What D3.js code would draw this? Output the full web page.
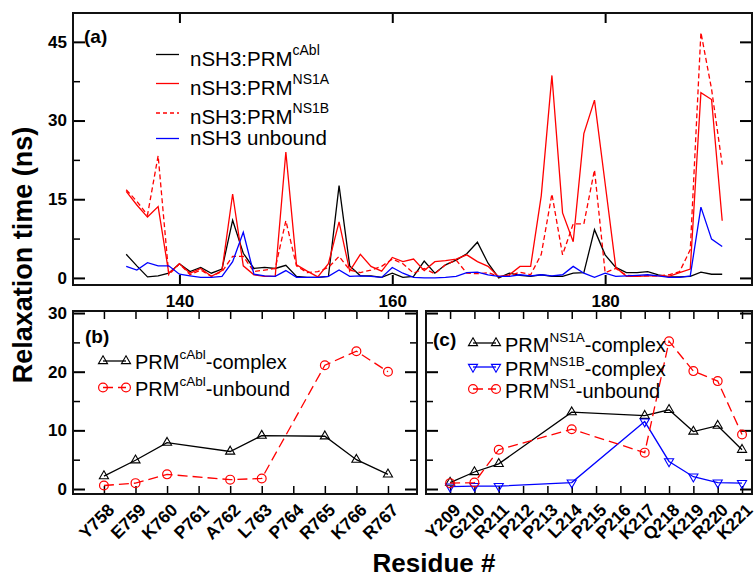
<!DOCTYPE html>
<html>
<head>
<meta charset="utf-8">
<script src="https://cdn.jsdelivr.net/npm/d3@7"></script>
<style>
  body { margin: 0; background: #fff; }
  svg text { font-family: "Liberation Sans", Arial, Helvetica, sans-serif; }
</style>
</head>
<body>
<svg id="fig" width="756" height="578"></svg>
<script>
// ---- panel (a): relaxation time per nSH3 residue ----
const residues = [135, 136, 137, 138, 139, 140, 141, 142, 143, 144, 145, 146, 147, 148, 149,
  150, 151, 152, 153, 154, 155, 156, 157, 158, 159, 160, 161, 162, 163, 164, 165, 166, 167,
  168, 169, 170, 171, 172, 173, 174, 175, 176, 177, 178, 179, 180, 181, 182, 183, 184, 185,
  186, 187, 188, 189, 190, 191];
const cAbl = [4.5, 2.3, 0.2, 0.4, 0.9, 2.7, 1.2, 2.0, 0.9, 1.7, 11.0, 4.7, 1.8, 2.0, 1.8,
  2.4, 0.3, 0.1, 0.1, 0.3, 17.6, 2.3, 0.4, 0.4, 0.1, 0.9, 0.1, 0.3, 3.2, 0.9, 2.5, 3.4, 4.6,
  6.8, 2.8, 0.0, 0.9, 0.5, 0.3, 0.6, 0.3, 0.3, 0.9, 1.0, 9.2, 4.4, 2.0, 1.0, 1.0, 1.2, 0.6,
  0.2, 0.2, 0.3, 1.1, 0.7, 0.7];
const ns1a = [16.5, 13.9, 11.6, 13.6, 0.9, 2.7, 0.9, 1.8, 0.3, 1.4, 16.0, 2.3, 0.6, 0.3, 0.3,
  24.0, 2.5, 1.3, 0.2, 2.7, 10.7, 1.3, 4.5, 2.2, 1.3, 3.9, 3.1, 3.6, 1.4, 3.1, 3.3, 3.6, 4.4,
  3.1, 2.2, 0.2, 0.6, 2.2, 2.2, 15.7, 38.6, 12.4, 6.9, 27.5, 33.9, 18.0, 2.0, 0.3, 0.3, 0.4,
  0.4, 0.3, 1.0, 1.7, 35.3, 34.0, 10.9];
const ns1b = [16.8, 14.6, 12.0, 23.3, 0.6, 2.7, 0.6, 1.5, 0.3, 1.2, 4.1, 4.1, 1.2, 1.5, 1.8,
  10.9, 2.3, 1.0, 1.2, 2.0, 4.1, 1.5, 1.0, 1.5, 2.2, 3.6, 2.7, 0.9, 1.8, 0.8, 2.5, 3.4, 0.9,
  0.8, 1.0, 0.3, 0.4, 1.1, 0.6, 4.5, 16.0, 4.4, 10.3, 10.3, 20.6, 1.0, 1.8, 0.5, 0.4, 0.4,
  0.4, 0.6, 1.2, 5.4, 46.8, 36.0, 21.6];
const unbound = [2.2, 1.5, 2.9, 2.3, 2.3, 0.7, 0.4, 0.1, 0.1, 0.3, 3.1, 8.7, 0.7, 0.4, 0.3,
  1.4, 0.1, 0.1, 0.1, 0.3, 1.5, 0.3, 0.4, 0.3, 0.1, 2.0, 0.9, 0.1, 0.0, 0.0, 0.1, 0.3, 1.0,
  1.1, 0.6, 0.3, 0.3, 0.6, 0.4, 0.6, 0.4, 0.6, 2.2, 0.9, 0.1, 0.9, 0.3, 0.4, 0.5, 0.6, 0.4,
  0.1, 0.1, 0.4, 13.5, 7.4, 6.0];
const aYMajor = [0, 15, 30, 45];
const aYMinor = [7.5, 22.5, 37.5];
const aXTicks = [140, 160, 180];

// ---- panel (b): PRM cAbl residues ----
const bLabels = ["Y758", "E759", "K760", "P761", "A762", "L763", "P764", "R765", "K766", "R767"];
const bComplex = [2.2, 4.9, 7.9, null, 6.4, 9.1, null, 9.0, 5.0, 2.5];
const bUnbound = [0.6, 1.0, 2.5, null, 1.6, 1.8, null, 21.1, 23.5, 20.0];

// ---- panel (c): PRM NS1 residues ----
const cLabels = ["Y209", "G210", "R211", "P212", "P213", "L214", "P215", "P216", "K217",
  "Q218", "K219", "R220", "K221"];
const cNS1A = [1.1, 2.9, 4.3, null, null, 13.1, null, null, 12.5, 13.5, 9.8, 10.8, 6.7];
const cNS1B = [0.4, 0.5, 0.5, null, null, 1.1, null, null, 11.5, 4.7, 2.1, 1.1, 1.0];
const cUnbound = [1.0, 1.1, 6.7, null, null, 10.2, null, null, 6.2, 25.2, 20.1, 18.4, 9.3];
const bcYMajor = [0, 10, 20, 30];
const bcYMinor = [5, 15, 25];

const svg = d3.select("#fig");

// style helper for axes: no domain, thick ticks, bold labels
function styleAxis(g, fontSize, width) {
  g.select(".domain").remove();
  g.selectAll(".tick line").attr("stroke", "#000").attr("stroke-width", width);
  g.selectAll(".tick text")
    .attr("fill", "#000")
    .style("font-size", fontSize + "px")
    .style("font-weight", "bold");
}

function frame(x0, y0, x1, y1) {
  svg.append("rect")
    .attr("x", x0).attr("y", y0)
    .attr("width", x1 - x0).attr("height", y1 - y0)
    .attr("fill", "none").attr("stroke", "#111").attr("stroke-width", 2);
}

function yAxes(y, x0, x1, major, minor, labels) {
  svg.append("g").attr("transform", "translate(" + x0 + ",0)")
    .call(d3.axisLeft(y).tickValues(major).tickSizeInner(-12).tickSizeOuter(0)
      .tickPadding(6).tickFormat(labels ? d3.format("d") : ""))
    .call(g => styleAxis(g, 17, 2));
  svg.append("g").attr("transform", "translate(" + x0 + ",0)")
    .call(d3.axisLeft(y).tickValues(minor).tickSizeInner(-7).tickSizeOuter(0).tickFormat(""))
    .call(g => styleAxis(g, 17, 1.5));
  svg.append("g").attr("transform", "translate(" + x1 + ",0)")
    .call(d3.axisRight(y).tickValues(major).tickSizeInner(-12).tickSizeOuter(0).tickFormat(""))
    .call(g => styleAxis(g, 17, 2));
  svg.append("g").attr("transform", "translate(" + x1 + ",0)")
    .call(d3.axisRight(y).tickValues(minor).tickSizeInner(-7).tickSizeOuter(0).tickFormat(""))
    .call(g => styleAxis(g, 17, 1.5));
}

// ================= panel (a) =================
const xA = d3.scaleLinear().domain([130, 193.8]).range([73, 752]);
const yA = d3.scaleLinear().domain([-1.35, 50.5]).range([285, 13]);

yAxes(yA, 73, 752, aYMajor, aYMinor, true);
svg.append("g").attr("transform", "translate(0,285)")
  .call(d3.axisBottom(xA).tickValues(aXTicks).tickSizeInner(-10).tickSizeOuter(0).tickPadding(10))
  .call(g => styleAxis(g, 17, 2));
svg.append("g").attr("transform", "translate(0,13)")
  .call(d3.axisTop(xA).tickValues(aXTicks).tickSizeInner(-10).tickSizeOuter(0).tickFormat(""))
  .call(g => styleAxis(g, 17, 2));

const seriesA = [
  { values: cAbl, color: "#000", dash: null },
  { values: ns1a, color: "#ff0000", dash: null },
  { values: ns1b, color: "#ff0000", dash: "5,3" },
  { values: unbound, color: "#0000ff", dash: null }
];
const lineA = d3.line().x(d => xA(d[0])).y(d => yA(d[1]));
seriesA.forEach(s => {
  svg.append("path")
    .datum(residues.map((r, i) => [r, s.values[i]]))
    .attr("d", lineA)
    .attr("fill", "none")
    .attr("stroke", s.color)
    .attr("stroke-width", 1.3)
    .attr("stroke-dasharray", s.dash);
});
frame(73, 13, 752, 285);

svg.append("text").attr("x", 84).attr("y", 43)
  .style("font-size", "19px").style("font-weight", "bold").text("(a)");

const legendA = [
  { main: "nSH3:PRM", sup: "cAbl", color: "#000", dash: null, ly: 54.5, ty: 66 },
  { main: "nSH3:PRM", sup: "NS1A", color: "#ff0000", dash: null, ly: 83.5, ty: 94.5 },
  { main: "nSH3:PRM", sup: "NS1B", color: "#ff0000", dash: "4,3", ly: 113, ty: 123.5 },
  { main: "nSH3 unbound", sup: null, color: "#0000ff", dash: null, ly: 138.5, ty: 145 }
];
legendA.forEach(l => {
  svg.append("line").attr("x1", 156).attr("x2", 179).attr("y1", l.ly).attr("y2", l.ly)
    .attr("stroke", l.color).attr("stroke-width", 1.3).attr("stroke-dasharray", l.dash);
  const t = svg.append("text").attr("x", 190).attr("y", l.ty).style("font-size", "20.5px");
  t.append("tspan").text(l.main);
  if (l.sup) t.append("tspan").attr("dy", -11).style("font-size", "14px").text(l.sup);
});

// ================= panels (b) and (c) =================
const yB = d3.scaleLinear().domain([-0.85, 30.35]).range([494, 311]);

function categoryPanel(labels, x, x0, x1, series) {
  yAxes(yB, x0, x1, bcYMajor, bcYMinor, x0 === 73);
  const idx = labels.map((d, i) => i);
  svg.append("g").attr("transform", "translate(0,494)")
    .call(d3.axisBottom(x).tickValues(idx).tickSizeInner(-8).tickSizeOuter(0)
      .tickFormat(i => labels[i]))
    .call(g => styleAxis(g, 17.5, 1.5))
    .call(g => g.selectAll(".tick text")
      .attr("text-anchor", "end")
      .attr("dy", null)
      .attr("y", null)
      .attr("transform", "translate(11,17) rotate(-45)"));
  svg.append("g").attr("transform", "translate(0,311)")
    .call(d3.axisTop(x).tickValues(idx).tickSizeInner(-8).tickSizeOuter(0).tickFormat(""))
    .call(g => styleAxis(g, 16, 1.5));

  series.forEach(s => {
    const pts = s.values.map((v, i) => [i, v]).filter(d => d[1] !== null);
    svg.append("path")
      .datum(pts)
      .attr("d", d3.line().x(d => x(d[0])).y(d => yB(d[1])))
      .attr("fill", "none")
      .attr("stroke", s.color)
      .attr("stroke-width", 1.3)
      .attr("stroke-dasharray", s.dash);
    drawMarkers(pts.map(d => [x(d[0]), yB(d[1])]), s);
  });
  frame(x0, 311, x1, 494);
}

function drawMarkers(points, s) {
  points.forEach(p => {
    if (s.marker === "circle") {
      svg.append("circle").attr("cx", p[0]).attr("cy", p[1]).attr("r", 4.4)
        .attr("fill", "none").attr("stroke", s.color).attr("stroke-width", 1.2);
    } else {
      svg.append("path")
        .attr("d", d3.symbol(d3.symbolTriangle, 36)())
        .attr("transform", "translate(" + p[0] + "," + p[1] + ")" +
          (s.marker === "down" ? " rotate(180)" : ""))
        .attr("fill", "none").attr("stroke", s.color).attr("stroke-width", 1.1);
    }
  });
}

function legendRow(x, lineY, textY, s, main, sup, rest) {
  svg.append("line").attr("x1", x).attr("x2", x + 23).attr("y1", lineY).attr("y2", lineY)
    .attr("stroke", s.color).attr("stroke-width", 1.3).attr("stroke-dasharray", s.dash);
  drawMarkers([[x, lineY], [x + 23, lineY]], s);
  const t = svg.append("text").attr("x", x + 32).attr("y", textY).style("font-size", "20px");
  t.append("tspan").text(main);
  t.append("tspan").attr("dy", -10).style("font-size", "13.5px").text(sup);
  t.append("tspan").attr("dy", 10).text(rest);
}

const bSeries = [
  { values: bComplex, color: "#000", dash: null, marker: "up" },
  { values: bUnbound, color: "#ff0000", dash: "10,5", marker: "circle" }
];
const xB = d3.scaleLinear().domain([-0.98, 9.92]).range([73, 417]);
categoryPanel(bLabels, xB, 73, 417, bSeries);
svg.append("text").attr("x", 85).attr("y", 343)
  .style("font-size", "19px").style("font-weight", "bold").text("(b)");
legendRow(103, 361, 369, bSeries[0], "PRM", "cAbl", "-complex");
legendRow(103, 387.5, 396, bSeries[1], "PRM", "cAbl", "-unbound");

const cSeries = [
  { values: cNS1A, color: "#000", dash: null, marker: "up" },
  { values: cNS1B, color: "#0000ff", dash: null, marker: "down" },
  { values: cUnbound, color: "#ff0000", dash: "10,5", marker: "circle" }
];
const xC = d3.scaleLinear().domain([-0.99, 12.41]).range([426, 752]);
categoryPanel(cLabels, xC, 426, 752, cSeries);
svg.append("text").attr("x", 433).attr("y", 346)
  .style("font-size", "19px").style("font-weight", "bold").text("(c)");
legendRow(473, 343, 351.5, cSeries[0], "PRM", "NS1A", "-complex");
legendRow(473, 367, 375.5, cSeries[1], "PRM", "NS1B", "-complex");
legendRow(473, 389, 397.5, cSeries[2], "PRM", "NS1", "-unbound");

// ---- axis titles ----
svg.append("text")
  .attr("transform", "translate(32,255) rotate(-90)")
  .attr("text-anchor", "middle")
  .style("font-size", "27px").style("font-weight", "bold")
  .text("Relaxation time (ns)");
svg.append("text")
  .attr("x", 434).attr("y", 572)
  .attr("text-anchor", "middle")
  .style("font-size", "26px").style("font-weight", "bold")
  .text("Residue #");
</script>
</body>
</html>
